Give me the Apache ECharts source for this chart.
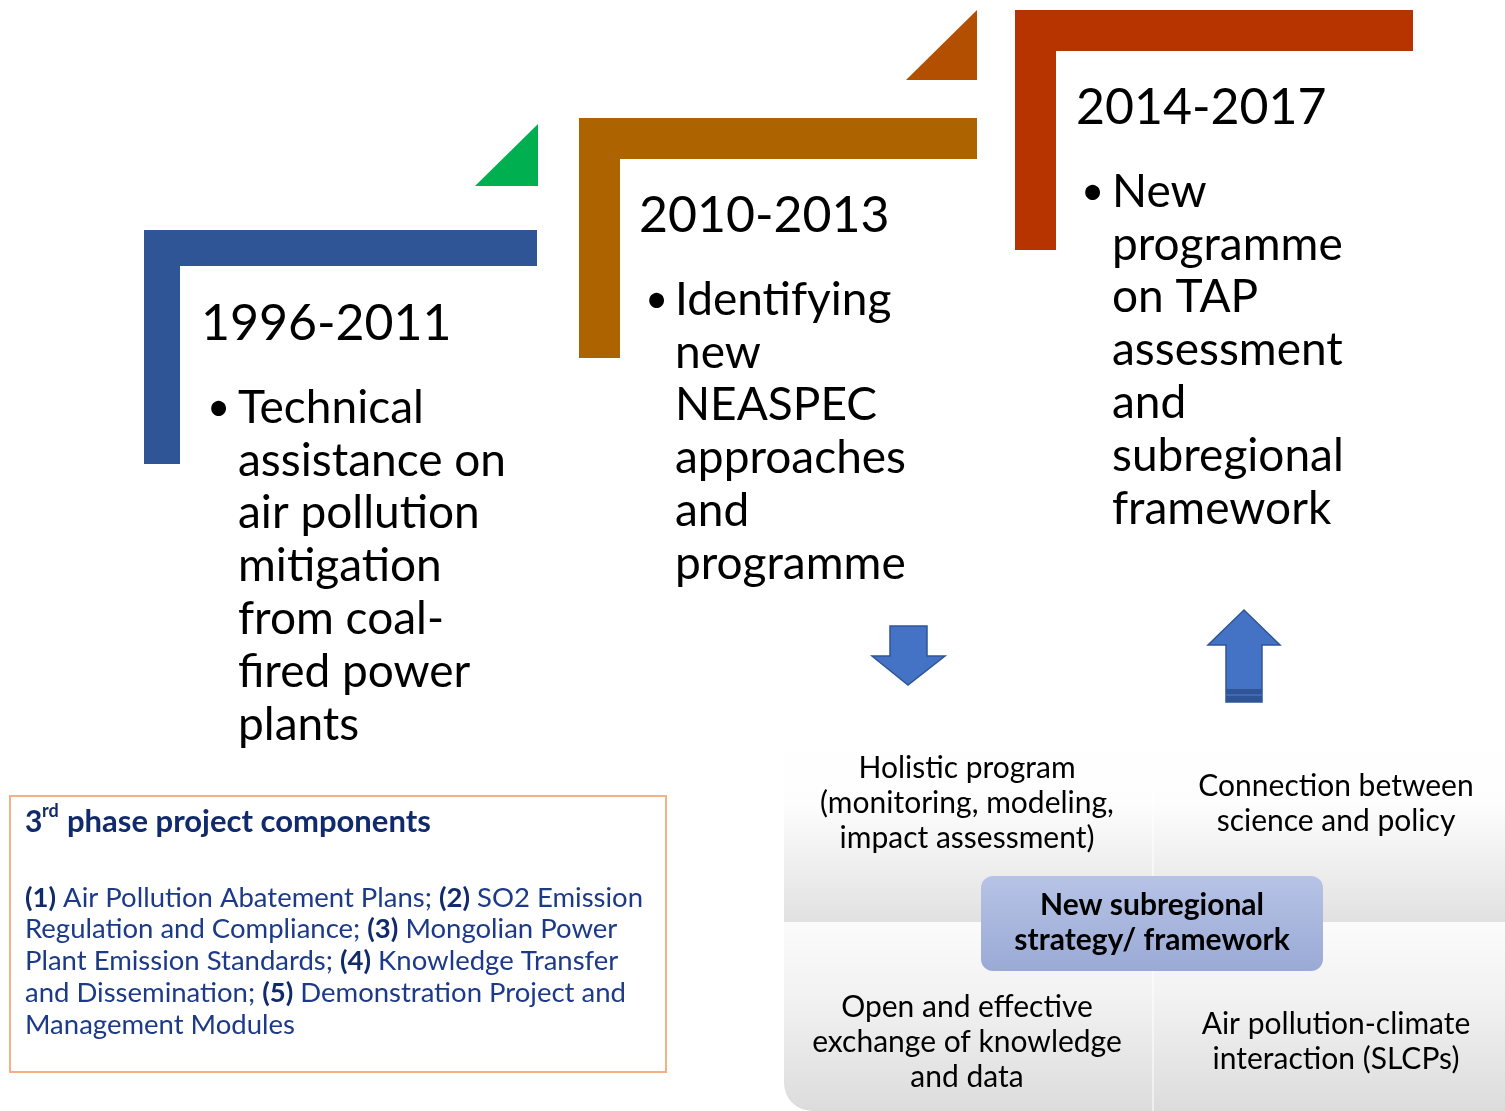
<!DOCTYPE html>
<html>
<head>
<meta charset="utf-8">
<script src="https://cdn.jsdelivr.net/npm/echarts@6/dist/echarts.min.js"></script>
<style>
  html, body { margin: 0; padding: 0; background: #ffffff; }
  #chart { width: 1505px; height: 1111px; }
</style>
</head>
<body>
<div id="chart"></div>
<script>
// phases of the timeline
const phaseYears = ['1996-2011', '2010-2013', '2014-2017'];
const phaseBullets = [
  ['Technical', 'assistance on', 'air pollution', 'mitigation', 'from coal-', 'fired power', 'plants'],
  ['Identifying', 'new', 'NEASPEC', 'approaches', 'and', 'programme'],
  ['New', 'programme', 'on TAP', 'assessment', 'and', 'subregional', 'framework']
];
const phaseColors = ['#2F5597', '#AD6400', '#B73400'];
const triangleColors = ['#00B050', '#B34F00'];

// framework panel
const frameworkCenter = ['New subregional', 'strategy/ framework'];
const frameworkLabels = [
  ['Holistic program', '(monitoring, modeling,', 'impact assessment)'],
  ['Connection between', 'science and policy'],
  ['Open and effective', 'exchange of knowledge', 'and data'],
  ['Air pollution-climate', 'interaction (SLCPs)']
];

// 3rd phase components box
const componentsTitle = 'phase project components';
const components = [
  'Air Pollution Abatement Plans',
  'SO2 Emission Regulation and Compliance',
  'Mongolian Power Plant Emission Standards',
  'Knowledge Transfer and Dissemination',
  'Demonstration Project and Management Modules'
];
// words that start a new line in the box
const componentBreaks = ['Regulation', 'Plant Emission', 'and Dissemination', 'Management'];

const FONT = 'Lato, "Open Sans", sans-serif';
const chart = echarts.init(document.getElementById('chart'), null, { renderer: 'canvas' });

// L-shaped frame, t = bar thickness
function lShape(x, y, w, h, t) {
  return [[x, y], [x + w, y], [x + w, y + t], [x + t, y + t], [x + t, y + h], [x, y + h]];
}

const els = [];

// frames: [x, y, width, height, thickness]
const frames = [
  [144, 230, 393, 234, 36],
  [579, 118, 398, 240, 41],
  [1015, 10, 398, 240, 41]
];
frames.forEach(function (f, i) {
  els.push({ type: 'polygon', shape: { points: lShape(f[0], f[1], f[2], f[3], f[4]) },
    style: { fill: phaseColors[i] } });
});

// corner triangles
els.push({ type: 'polygon', shape: { points: [[475, 186], [538, 124], [538, 186]] },
  style: { fill: triangleColors[0] } });
els.push({ type: 'polygon', shape: { points: [[906, 80], [977, 10], [977, 80]] },
  style: { fill: triangleColors[1] } });

// year headings and bullets
const textPos = [
  { yearX: 201, yearY: 324, bx: 207, tx: 238, ty: 408 },
  { yearX: 639, yearY: 216, bx: 645, tx: 675, ty: 300 },
  { yearX: 1076, yearY: 108, bx: 1081, tx: 1112, ty: 192 }
];
const LH = 52.8;
textPos.forEach(function (p, i) {
  els.push({ type: 'text', x: p.yearX, y: p.yearY,
    style: { text: phaseYears[i], fill: '#000', font: '50px ' + FONT, verticalAlign: 'middle' } });
  els.push({ type: 'text', x: p.bx, y: p.ty,
    style: { text: '•', fill: '#000', font: '40px ' + FONT, verticalAlign: 'middle' } });
  els.push({ type: 'text', x: p.tx, y: p.ty - LH / 2,
    style: { text: phaseBullets[i].join('\n'), fill: '#000', font: '46px ' + FONT,
      lineHeight: LH, verticalAlign: 'top' } });
});

// arrows
els.push({ type: 'polygon',
  shape: { points: [[890, 626], [927, 626], [927, 656], [945, 656], [908, 685], [872, 656], [890, 656]] },
  style: { fill: '#4472C4', stroke: '#2F5597', lineWidth: 1.5 } });
els.push({ type: 'polygon',
  shape: { points: [[1244, 610], [1280, 645], [1262, 645], [1262, 702], [1226, 702], [1226, 645], [1208, 645]] },
  style: { fill: '#4472C4', stroke: '#2F5597', lineWidth: 1.5 } });
els.push({ type: 'rect', shape: { x: 1226, y: 689, width: 36, height: 13 },
  style: { fill: '#2F5597' } });
els.push({ type: 'line', shape: { x1: 1226, y1: 695, x2: 1262, y2: 695 },
  style: { stroke: '#4472C4', lineWidth: 1.5 } });

// framework panel background
els.push({ type: 'rect', shape: { x: 784, y: 740, width: 721, height: 182 },
  style: { fill: { type: 'linear', x: 0, y: 0, x2: 0, y2: 1,
    colorStops: [{ offset: 0, color: '#ffffff' }, { offset: 0.35, color: '#fdfdfd' }, { offset: 1, color: '#e1e1e1' }] } } });
els.push({ type: 'rect', shape: { x: 784, y: 922, width: 721, height: 189, r: [0, 0, 0, 28] },
  style: { fill: { type: 'linear', x: 0, y: 0, x2: 0, y2: 1,
    colorStops: [{ offset: 0, color: '#fbfbfb' }, { offset: 0.4, color: '#f2f2f2' }, { offset: 1, color: '#dcdcdc' }] } } });
els.push({ type: 'line', shape: { x1: 1153, y1: 790, x2: 1153, y2: 1111 },
  style: { stroke: 'rgba(255,255,255,0.7)', lineWidth: 1.5 } });

// center box
els.push({ type: 'rect', shape: { x: 981, y: 876, width: 342, height: 95, r: 12 },
  style: { fill: { type: 'linear', x: 0, y: 0, x2: 0, y2: 1,
    colorStops: [{ offset: 0, color: '#B7C3E6' }, { offset: 1, color: '#9AAAD5' }] } } });
els.push({ type: 'text', x: 1152, y: 923,
  style: { text: frameworkCenter.join('\n'), fill: '#000', font: 'bold 30px ' + FONT,
    lineHeight: 35, align: 'center', verticalAlign: 'middle' } });

// framework labels: [centerX, firstLineY]
const labelPos = [[967, 768], [1336, 786], [967, 1007], [1336, 1024]];
frameworkLabels.forEach(function (lines, i) {
  els.push({ type: 'text', x: labelPos[i][0], y: labelPos[i][1] - 17.5,
    style: { text: lines.join('\n'), fill: '#000', font: '30px ' + FONT,
      lineHeight: 35, align: 'center', verticalAlign: 'top' } });
});

// components box
els.push({ type: 'rect', shape: { x: 10, y: 796, width: 656, height: 276 },
  style: { fill: '#ffffff', stroke: '#F4B183', lineWidth: 2 } });
els.push({ type: 'text', x: 25, y: 822,
  style: { text: '3', fill: '#102A6B', font: 'bold 30px ' + FONT, verticalAlign: 'middle' } });
els.push({ type: 'text', x: 42, y: 811,
  style: { text: 'rd', fill: '#102A6B', font: 'bold 18px ' + FONT, verticalAlign: 'middle' } });
els.push({ type: 'text', x: 67, y: 822,
  style: { text: componentsTitle, fill: '#102A6B', font: 'bold 31px ' + FONT, verticalAlign: 'middle' } });

let compText = components.map(function (c, i) {
  return '{b|(' + (i + 1) + ')} ' + c + ';';
}).join(' ').replace(/;$/, '');
componentBreaks.forEach(function (b) {
  compText = compText.replace(' ' + b, '\n' + b);
});
els.push({ type: 'text', x: 25, y: 882,
  style: { text: compText, fill: '#1C3A88', font: '27.5px ' + FONT,
    lineHeight: 31.7, verticalAlign: 'top',
    rich: { b: { fontWeight: 'bold', fontSize: 27.5, fontFamily: FONT, fill: '#102A6B', lineHeight: 31.7 } } } });

chart.setOption({
  animation: false,
  graphic: { elements: els }
});
</script>
</body>
</html>
